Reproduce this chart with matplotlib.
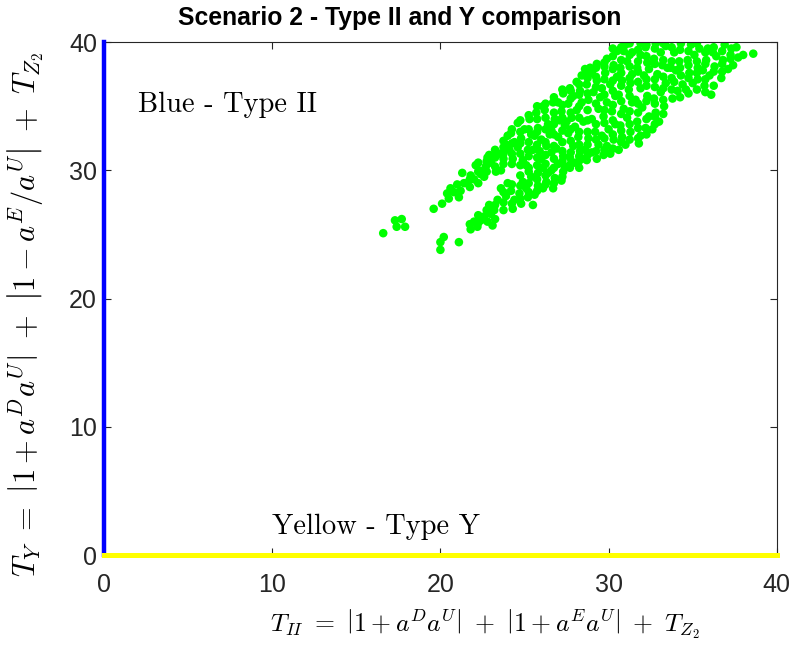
import numpy as np
import matplotlib
matplotlib.use("Agg")
import matplotlib.pyplot as plt

plt.rcParams['mathtext.fontset'] = 'cm'
plt.rcParams['font.family'] = ['Liberation Sans', 'DejaVu Sans']

# --- datos (T_II, T_Y) ---
t2_sueltos = [16.6, 17.3, 17.7, 17.4, 17.9]
ty_sueltos = [25.1, 26.1, 26.2, 25.6, 25.6]

# banda superior (izquierda)
t2_sup = [19.6, 20.1, 20.5, 20.6, 20.4, 20.8, 21.0, 21.2, 21.3, 21.4, 21.1,
          21.6, 21.8, 22.1, 22.0, 22.3, 22.4, 22.6, 22.8, 22.7, 23.0, 23.2,
          23.3, 23.5, 22.9, 23.75, 23.75, 23.9, 24.0, 24.2, 24.1, 24.3, 23.6,
          24.4, 24.6, 24.6, 24.8, 25.0, 25.2, 25.3, 25.5, 24.9, 25.4, 25.1,
          25.7, 25.8, 26.0, 26.2, 26.4, 25.9, 26.3, 25.6, 26.1, 26.5, 26.0,
          26.7, 27.0, 26.8, 27.2, 27.3, 26.6, 27.0, 27.4, 26.9, 27.3, 26.6, 27.1]
ty_sup = [27.0, 27.4, 27.8, 28.6, 28.2, 28.3, 28.9, 28.4, 29.8, 29.0, 27.9,
          29.0, 29.6, 30.4, 29.3, 30.0, 29.7, 29.5, 31.0, 30.3, 30.6, 31.2,
          29.9, 31.3, 31.2, 30.5, 31.3, 32.0, 32.7, 32.9, 31.6, 30.9, 30.0,
          32.2, 31.8, 33.7, 32.5, 33.2, 31.6, 34.0, 31.6, 30.8, 32.8, 30.4,
          34.5, 33.3, 32.4, 34.7, 33.6, 31.5, 31.9, 32.7, 35.0, 32.8, 30.9,
          35.3, 35.3, 34.0, 34.6, 36.0, 33.1, 32.6, 33.5, 31.7, 31.1, 31.4, 33.9]

# banda inferior
t2_inf = [20.0, 20.0, 20.2, 21.1, 21.8, 22.0, 22.2, 22.4, 22.6, 22.9, 23.1,
          23.2, 23.4, 22.8, 23.0, 23.75, 24.3, 23.9, 24.2, 24.4, 23.6, 24.0,
          24.8, 25.2, 25.5, 24.9, 25.1, 24.7, 25.4, 25.8, 26.1, 25.8, 26.1,
          26.4, 25.6, 26.3, 26.7, 26.8, 27.3, 27.0, 26.6, 27.4, 27.2]
ty_inf = [23.8, 24.4, 24.8, 24.4, 25.4, 26.0, 25.6, 26.1, 26.4, 27.3, 25.7,
          26.9, 27.7, 26.0, 26.6, 27.5, 27.0, 28.0, 28.4, 27.7, 28.6, 29.0,
          27.4, 27.9, 27.3, 29.1, 28.6, 28.2, 29.5, 28.8, 28.6, 29.8, 30.2,
          29.8, 28.1, 29.1, 28.6, 29.4, 29.9, 30.5, 30.0, 30.3, 29.2]

# zona densa (ambas bandas unidas)
t2_den = [27.7, 27.6, 27.9, 28.1, 28.4, 28.3, 27.8, 28.0, 28.2, 27.6, 27.9,
          28.3, 27.7, 28.0, 28.2, 28.5, 27.7, 28.4, 28.1, 27.5, 28.4,
          28.7, 29.3, 28.6, 29.0, 29.4, 28.8, 29.2, 29.0, 29.4, 28.8, 29.1,
          28.7, 29.3, 29.0, 29.3, 28.9, 29.5, 28.6,
          29.7, 30.1, 29.9, 30.3, 29.6, 30.0, 30.4, 29.7, 30.2, 29.9, 30.4,
          29.6, 30.1, 30.5, 29.8, 30.3, 29.9, 30.5,
          30.6, 31.0, 30.8, 31.3, 30.7, 31.1, 30.9, 31.4, 30.6, 31.2, 30.8,
          31.4, 30.7, 31.1, 31.0, 31.4, 30.9, 31.3,
          31.8, 31.9, 32.2, 31.7, 32.4, 32.0, 31.6, 32.3, 31.9, 32.1, 31.7,
          32.3, 31.9, 32.2, 31.9, 32.4,
          32.6, 33.0, 32.8, 33.3, 32.7, 33.1, 33.4, 32.9, 33.2, 32.7, 33.1,
          33.4, 32.8, 33.5,
          33.8, 34.1, 33.9, 34.3, 33.7, 34.2, 33.9, 34.3, 34.4, 34.0,
          34.6, 35.0, 34.8, 35.3, 34.7, 35.1, 35.4, 34.9, 35.3,
          36.1, 35.7, 36.0, 36.3, 35.8, 36.2, 35.9, 36.4, 35.6,
          36.7, 36.8, 37.4, 37.3, 36.9, 37.1,
          38.0, 38.6, 37.7, 37.6]
ty_den = [36.4, 35.2, 35.8, 34.7, 37.4, 36.2, 34.1, 33.4, 32.6, 32.9, 31.9,
          31.5, 31.0, 30.6, 30.6, 33.8, 30.2, 35.3, 36.9, 33.8, 30.9,
          30.8, 30.9, 31.6, 31.4, 32.0, 32.5, 33.0, 34.0, 34.8, 35.5, 36.1,
          36.7, 37.0, 37.6, 38.3, 38.0, 35.7, 37.9,
          31.2, 31.3, 31.9, 32.4, 32.7, 33.2, 33.6, 34.2, 34.6, 35.3, 35.8,
          36.4, 36.7, 37.3, 37.6, 38.2, 38.7, 39.3,
          31.6, 32.0, 32.6, 33.0, 33.5, 34.1, 34.8, 35.3, 35.9, 36.3, 37.0,
          37.5, 38.0, 38.5, 39.8, 39.2, 39.3, 36.8,
          32.1, 32.7, 33.3, 33.8, 34.2, 34.9, 35.5, 35.8, 36.4, 37.4, 38.0,
          38.4, 39.0, 39.6, 39.9, 37.9,
          33.2, 33.8, 34.5, 35.0, 35.6, 36.1, 36.8, 37.5, 38.2, 38.7, 39.2,
          39.7, 39.9, 38.0,
          35.6, 36.2, 36.9, 37.4, 38.0, 38.5, 39.2, 39.9, 36.7, 37.8,
          36.3, 36.8, 37.6, 38.0, 38.6, 39.0, 39.5, 39.8, 37.1,
          35.9, 36.6, 37.4, 38.1, 38.6, 39.2, 39.5, 38.9, 37.8,
          37.2, 38.6, 38.2, 39.5, 39.8, 37.9,
          39.0, 39.1, 38.8, 39.6]

# puntos de relleno entre los anteriores (leidos columna a columna)
t2_rel = [21.75, 21.75, 21.75,
          22.25, 22.25, 22.25, 22.25, 22.25,
          22.75, 22.75, 22.75,
          23.25, 23.25, 23.25, 23.25, 23.25,
          23.75, 23.75, 23.75, 23.75, 23.75,
          24.25, 24.25, 24.25, 24.25, 24.25, 24.25,
          24.75, 24.75, 24.75, 24.75, 24.75, 24.75, 24.75, 24.75,
          25.25, 25.25, 25.25, 25.25, 25.25, 25.25, 25.25, 25.25,
          25.75, 25.75, 25.75, 25.75, 25.75, 25.75, 25.75, 25.75,
          26.25, 26.25, 26.25, 26.25, 26.25, 26.25, 26.25, 26.25,
          26.75, 26.75, 26.75, 26.75, 26.75, 26.75, 26.75, 26.75,
          27.25, 27.25, 27.25, 27.25, 27.25, 27.25, 27.25, 27.25,
          27.75, 27.75, 27.75, 27.75, 27.75, 27.75, 27.75,
          28.25, 28.25, 28.25, 28.25, 28.25, 28.25, 28.25, 28.25,
          28.75, 28.75, 28.75, 28.75, 28.75, 28.75, 28.75, 28.75,
          29.25, 29.25, 29.25, 29.25, 29.25, 29.25, 29.25,
          29.75, 29.75, 29.75, 29.75, 29.75, 29.75, 29.75, 29.75,
          30.25, 30.25, 30.25, 30.25, 30.25, 30.25, 30.25, 30.25, 30.25,
          30.75, 30.75, 30.75, 30.75, 30.75, 30.75, 30.75, 30.75,
          31.25, 31.25, 31.25, 31.25, 31.25, 31.25, 31.25, 31.25,
          31.75, 31.75, 31.75, 31.75, 31.75, 31.75, 31.75, 31.75,
          32.25, 32.25, 32.25, 32.25, 32.25, 32.25, 32.25,
          32.75, 32.75, 32.75, 32.75, 32.75, 32.75, 32.75,
          33.25, 33.25, 33.25, 33.25, 33.25, 33.25,
          33.75, 33.75, 33.75, 33.75,
          34.25, 34.25, 34.25,
          34.75, 34.75, 34.75, 34.75,
          35.25, 35.25, 35.25, 35.25,
          35.75, 35.75, 35.75, 35.75,
          36.25, 36.25, 36.25,
          36.75, 36.75, 36.75,
          37.25, 37.25]
ty_rel = [28.7, 29.3, 25.8,
          29.0, 29.9, 30.6, 25.9, 26.5,
          29.9, 30.7, 26.9,
          30.3, 31.0, 31.6, 26.2, 27.3,
          31.8, 30.9, 32.3, 26.9, 28.3,
          31.3, 32.1, 33.2, 30.5, 28.9, 27.4,
          31.3, 32.1, 33.0, 33.9, 30.4, 27.8, 28.8, 29.6,
          31.1, 32.2, 33.2, 34.3, 30.2, 28.3, 29.0, 29.9,
          31.0, 32.0, 33.0, 34.0, 35.0, 28.4, 29.3, 30.4,
          31.2, 32.2, 33.2, 34.1, 35.2, 30.5, 28.9, 29.6,
          31.9, 32.8, 33.6, 34.5, 35.7, 30.9, 29.0, 30.2,
          32.2, 33.1, 34.1, 35.1, 36.3, 31.5, 29.5, 30.7,
          30.5, 31.4, 32.3, 33.2, 34.5, 35.6, 36.2,
          30.2, 31.1, 32.0, 33.0, 34.1, 35.0, 35.9, 36.7,
          31.2, 32.0, 33.0, 33.9, 34.7, 36.0, 37.2, 37.4,
          31.5, 32.4, 33.6, 35.2, 36.5, 37.3, 38.0,
          31.6, 32.5, 33.7, 34.7, 35.9, 37.1, 38.1, 38.4,
          31.7, 32.8, 33.9, 35.1, 36.2, 37.0, 37.9, 38.9, 39.5,
          32.2, 33.1, 34.4, 35.4, 36.6, 37.6, 38.6, 39.6,
          32.4, 33.6, 34.6, 35.8, 37.2, 38.1, 39.0, 39.9,
          32.5, 33.3, 34.5, 35.2, 36.9, 37.7, 38.5, 39.4,
          32.8, 34.0, 35.4, 36.6, 37.1, 38.9, 39.8,
          33.6, 34.2, 35.2, 36.5, 37.1, 38.3, 39.5,
          34.4, 35.5, 36.4, 37.3, 38.6, 39.9,
          36.3, 37.2, 38.5, 39.6,
          35.7, 38.0, 39.4,
          36.0, 37.2, 38.2, 39.3,
          36.3, 37.6, 38.5, 39.9,
          36.1, 37.1, 38.3, 39.2,
          36.6, 37.7, 39.6,
          37.7, 38.3, 39.3,
          38.7, 39.0]

t2 = np.array(t2_sueltos + t2_sup + t2_inf + t2_den + t2_rel)
ty = np.array(ty_sueltos + ty_sup + ty_inf + ty_den + ty_rel)

# --- FIGURA ---
fig = plt.figure(figsize=(8, 6.48), dpi=100)
ax = fig.add_axes([0.13, 0.1435, 0.841, 0.7915])

ax.scatter(t2, ty, s=38, c='#00FF00', edgecolors='none', zorder=2)

# Tipo II en el eje vertical, Tipo Y en el horizontal
ax.plot([0, 0], [0, 40], color='#0000FF', lw=3.2, clip_on=False, zorder=3)
ax.plot([0, 40], [0, 0], color='#FFFF00', lw=3.6, clip_on=False, zorder=4)

ax.text(2.0, 35.1, 'Blue - Type II', fontname='cmr10', fontsize=20.5, va='center')
ax.text(10.0, 2.2, 'Yellow - Type Y', fontname='cmr10', fontsize=20.5, va='center')

ax.set_xlim(0, 40)
ax.set_ylim(0, 40)
ax.set_xticks([0, 10, 20, 30, 40])
ax.set_yticks([0, 10, 20, 30, 40])
ax.tick_params(direction='in', top=True, right=True, labelsize=18,
               colors='#262626', length=5)
ax.tick_params(axis='x', pad=13)
ax.tick_params(axis='y', pad=5)
for s in ax.spines.values():
    s.set_color('#262626')
    s.set_linewidth(0.8)

fig.text(0.5, 1 - 18 / 648, 'Scenario 2 - Type II and Y comparison',
         fontsize=17.8, fontweight='bold', ha='center', va='center')
ax.set_xlabel(r'$T_{II}\ =\ \left|1 + a^D a^U\right|\ +\ \left|1 + a^E a^U\right|\ +\ T_{Z_2}$',
              fontsize=18.5, va='center')
ax.xaxis.set_label_coords(0.566, -0.136)
ax.set_ylabel(r'$T_Y\ =\ \left|1 + a^D a^U\right|\ +\ \left|1 - a^E/a^U\right|\ +\ T_{Z_2}$',
              fontsize=22, va='center')
ax.yaxis.set_label_coords(-0.117, 0.468)

fig.savefig('out.png', dpi=100)
